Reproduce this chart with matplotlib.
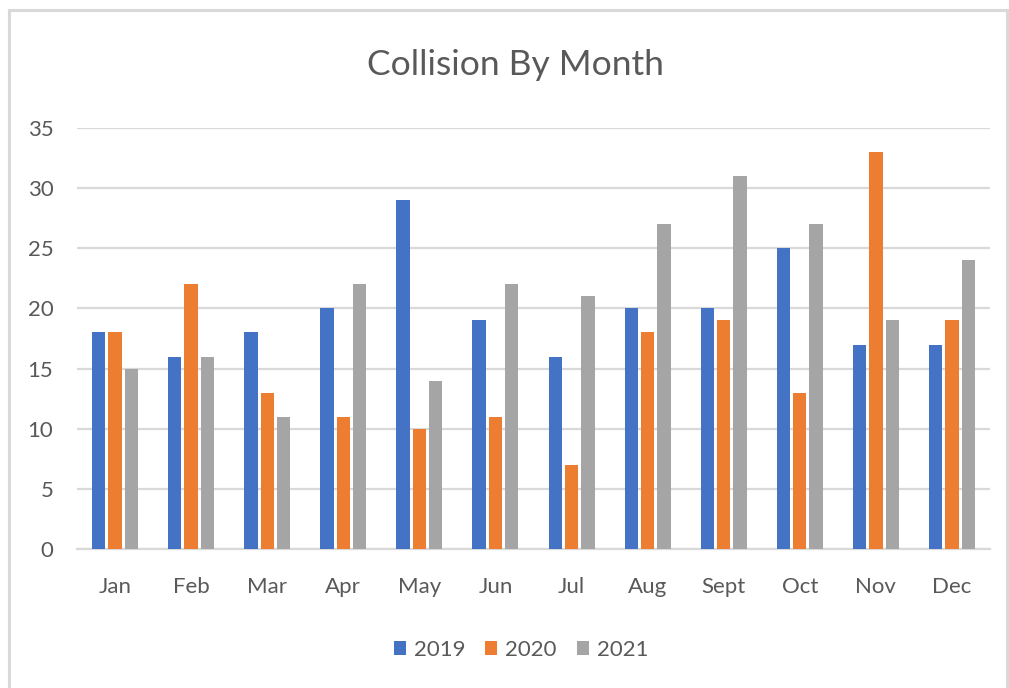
import matplotlib
matplotlib.use("Agg")
import matplotlib.pyplot as plt
import numpy as np
from matplotlib.patches import Rectangle

months = ["Jan", "Feb", "Mar", "Apr", "May", "Jun", "Jul", "Aug", "Sept", "Oct", "Nov", "Dec"]
series_names = ["2019", "2020", "2021"]
v2019 = [18, 16, 18, 20, 29, 19, 16, 20, 20, 25, 17, 17]
v2020 = [18, 22, 13, 11, 10, 11, 7, 18, 19, 13, 33, 19]
v2021 = [15, 16, 11, 22, 14, 22, 21, 27, 31, 27, 19, 24]
colors = ["#4472C4", "#ED7D31", "#A5A5A5"]
yticks = [0, 5, 10, 15, 20, 25, 30, 35]

plt.rcParams['font.family'] = ['Lato', 'DejaVu Sans']
txt = "#595959"
W, H = 1009, 688
fig = plt.figure(figsize=(W / 100, H / 100), dpi=100)
ax = fig.add_axes([77 / W, (H - 549) / H, (990 - 77) / W, (549 - 128) / H])

x = np.arange(len(months))
bw = 0.175
step = 0.215
for i, (vals, c, n) in enumerate(zip([v2019, v2020, v2021], colors, series_names)):
    ax.bar(x + (i - 1) * step, vals, width=bw, color=c, label=n, zorder=3)

ax.set_xlim(-0.5, len(months) - 0.5)
ax.set_ylim(0, 35)
ax.set_yticks(yticks)
ax.set_xticks(x)
ax.set_xticklabels(months)
ax.tick_params(axis='both', length=0, labelsize=16, colors=txt)
ax.tick_params(axis='x', pad=20)
ax.tick_params(axis='y', pad=17)
ax.grid(axis='y', color='#d9d9d9', linewidth=1.6, zorder=0)
for s in ['top', 'right', 'left']:
    ax.spines[s].set_visible(False)
ax.spines['bottom'].set_color('#d9d9d9')
ax.spines['bottom'].set_linewidth(1.6)

fig.text(515 / W, 1 - 65 / H, "Collision By Month", ha='center', va='center',
         fontsize=25.5, color=txt)

leg = fig.legend(loc='center', bbox_to_anchor=(521 / W, 1 - 650 / H), ncol=3,
                 frameon=False, fontsize=16, handlelength=0.55, handleheight=0.55,
                 handletextpad=0.35, columnspacing=0.9, labelcolor=txt)

fig.patches.append(Rectangle((9 / W, -0.01), (1007 - 9) / W, 1 - 10 / H + 0.01,
                             transform=fig.transFigure, fill=False,
                             edgecolor='#d9d9d9', linewidth=2.2))

fig.savefig("out.png", dpi=100)
